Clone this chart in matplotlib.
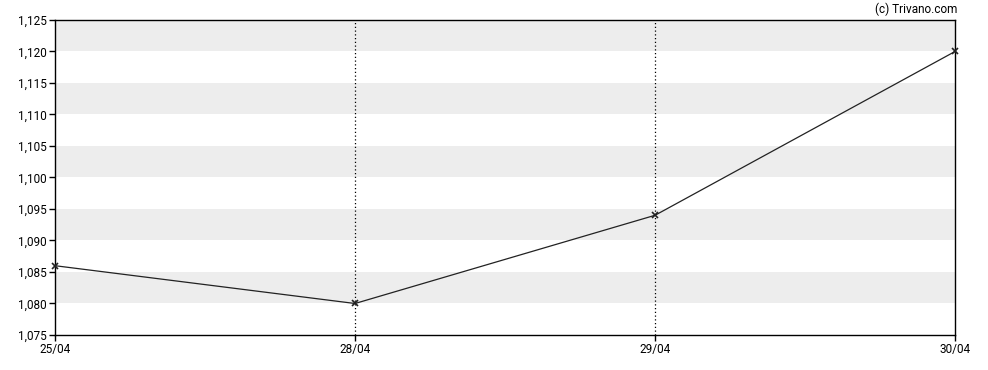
import matplotlib.pyplot as plt
from matplotlib.ticker import FuncFormatter

# data
dates = ['25/04', '28/04', '29/04', '30/04']
prices = [1.086, 1.080, 1.094, 1.120]
y_ticks = [1.075, 1.080, 1.085, 1.090, 1.095, 1.100, 1.105, 1.110, 1.115, 1.120, 1.125]
bands = [(1.080, 1.085), (1.090, 1.095), (1.100, 1.105), (1.110, 1.115), (1.120, 1.125)]

plt.rcParams['font.family'] = ['Roboto', 'DejaVu Sans']

fig = plt.figure(figsize=(9.88, 3.7), dpi=100)
ax = fig.add_axes([55 / 988, 1 - 335 / 370, 900 / 988, 315 / 370])

x = list(range(len(dates)))

# alternating grey bands
for lo, hi in bands:
    ax.axhspan(lo, hi, color='#ededed', lw=0, zorder=0)

# dotted vertical lines at inner dates
for xi in x[1:-1]:
    ax.axvline(xi, color='black', lw=0.9, ls=(0, (1, 2)), zorder=1)

ax.plot(x, prices, color='#222222', lw=0.9, marker='x', markersize=4,
        markeredgewidth=1.2, markeredgecolor='#222222', zorder=3, clip_on=False)

ax.set_xlim(0, len(dates) - 1)
ax.set_ylim(1.075, 1.125)
ax.set_xticks(x)
ax.set_xticklabels(dates)
ax.set_yticks(y_ticks)
ax.yaxis.set_major_formatter(FuncFormatter(lambda v, p: f'{v:.3f}'.replace('.', ',')))

ax.tick_params(axis='both', direction='out', length=4, width=1, labelsize=8.5,
               colors='black', pad=2)
for s in ax.spines.values():
    s.set_color('black')
    s.set_linewidth(1)

fig.text(957 / 988, 1 - 9 / 370, '(c) Trivano.com', ha='right', va='center', fontsize=8.5)

fig.savefig('out.png', dpi=100)
